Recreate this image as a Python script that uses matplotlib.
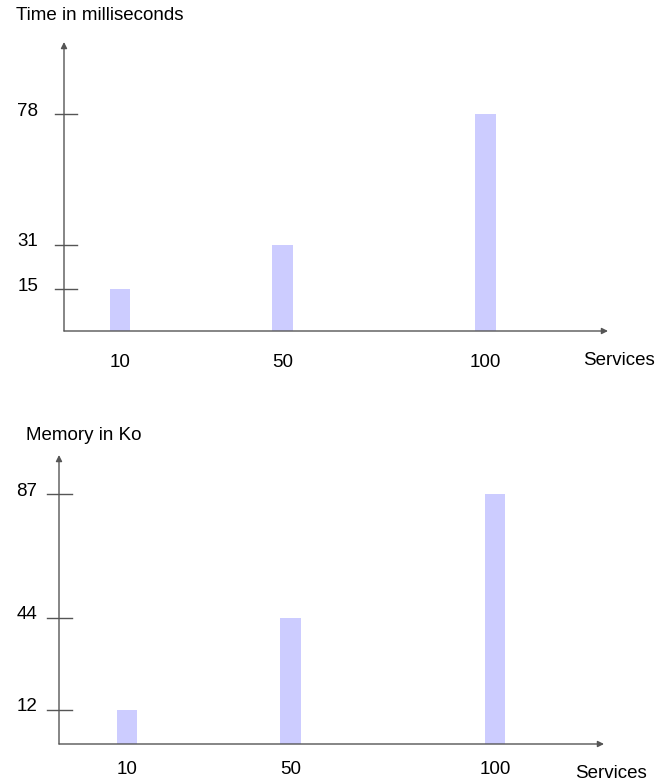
import matplotlib
matplotlib.use("Agg")
import matplotlib.pyplot as plt

plt.rcParams['font.family'] = ['Liberation Sans', 'DejaVu Sans']

# Data
services = [10, 50, 100]
time_ms = [15, 31, 78]
memory_ko = [12, 44, 87]

W, H = 657, 783
fig = plt.figure(figsize=(W / 100, H / 100), dpi=100)

BAR_COLOR = '#ccccff'
AXIS_COLOR = '#555555'
FS = 13.5


def panel(x_left, x_right, y_axis, y_top, xlim, ylim, values, title, title_xy,
          label_y, services_xy, tick_label_x, tick_span):
    """Draw one bar panel; positions given in figure pixels (origin top-left)."""
    ax = fig.add_axes([x_left / W, 1 - y_axis / H,
                       (x_right - x_left) / W, (y_axis - y_top) / H])
    ax.set_xlim(*xlim)
    ax.set_ylim(*ylim)
    ax.axis('off')

    ax.bar(services, values, width=5, color=BAR_COLOR, linewidth=0)

    arrow = dict(arrowstyle='-|>', color=AXIS_COLOR, lw=1.0,
                 mutation_scale=9, shrinkA=0, shrinkB=0)
    # horizontal axis
    ax.annotate('', xy=(xlim[1], 0), xytext=(xlim[0], 0),
                arrowprops=arrow, annotation_clip=False)
    # vertical axis
    ax.annotate('', xy=(xlim[0], ylim[1]), xytext=(xlim[0], 0),
                arrowprops=arrow, annotation_clip=False)

    xs = (xlim[1] - xlim[0]) / (x_right - x_left)   # data units per pixel (x)
    ys = (ylim[1] - ylim[0]) / (y_axis - y_top)     # data units per pixel (y)

    def dx(px):
        return xlim[0] + (px - x_left) * xs

    def dy(py):
        return (y_axis - py) * ys

    for v in values:
        ax.plot([dx(tick_span[0]), dx(tick_span[1])], [v, v],
                color=AXIS_COLOR, lw=1.0, clip_on=False)
        ax.text(dx(tick_label_x), v + 3 * ys, str(v), ha='right', va='center',
                fontsize=FS, color='black', clip_on=False)

    for s in services:
        ax.text(s, dy(label_y), str(s), ha='center', va='center',
                fontsize=FS, color='black', clip_on=False)

    ax.text(dx(services_xy[0]), dy(services_xy[1]), 'Services', ha='left',
            va='center', fontsize=FS, color='black', clip_on=False)
    fig.text(title_xy[0] / W, 1 - title_xy[1] / H, title, ha='left',
             va='center', fontsize=FS, color='black')
    return ax


# Top panel: response time
panel(x_left=64, x_right=608, y_axis=331, y_top=42,
      xlim=(-3.8, 130.2), ylim=(0, 104), values=time_ms,
      title='Time in milliseconds', title_xy=(16, 16),
      label_y=363, services_xy=(583, 361), tick_label_x=38,
      tick_span=(55, 77))

# Bottom panel: memory usage
panel(x_left=59, x_right=604, y_axis=744, y_top=455,
      xlim=(-6.6, 126.6), ylim=(0, 100.6), values=memory_ko,
      title='Memory in Ko', title_xy=(26, 435),
      label_y=769, services_xy=(575, 773), tick_label_x=37,
      tick_span=(47, 72))

fig.savefig('out.png', dpi=100, facecolor='white')
